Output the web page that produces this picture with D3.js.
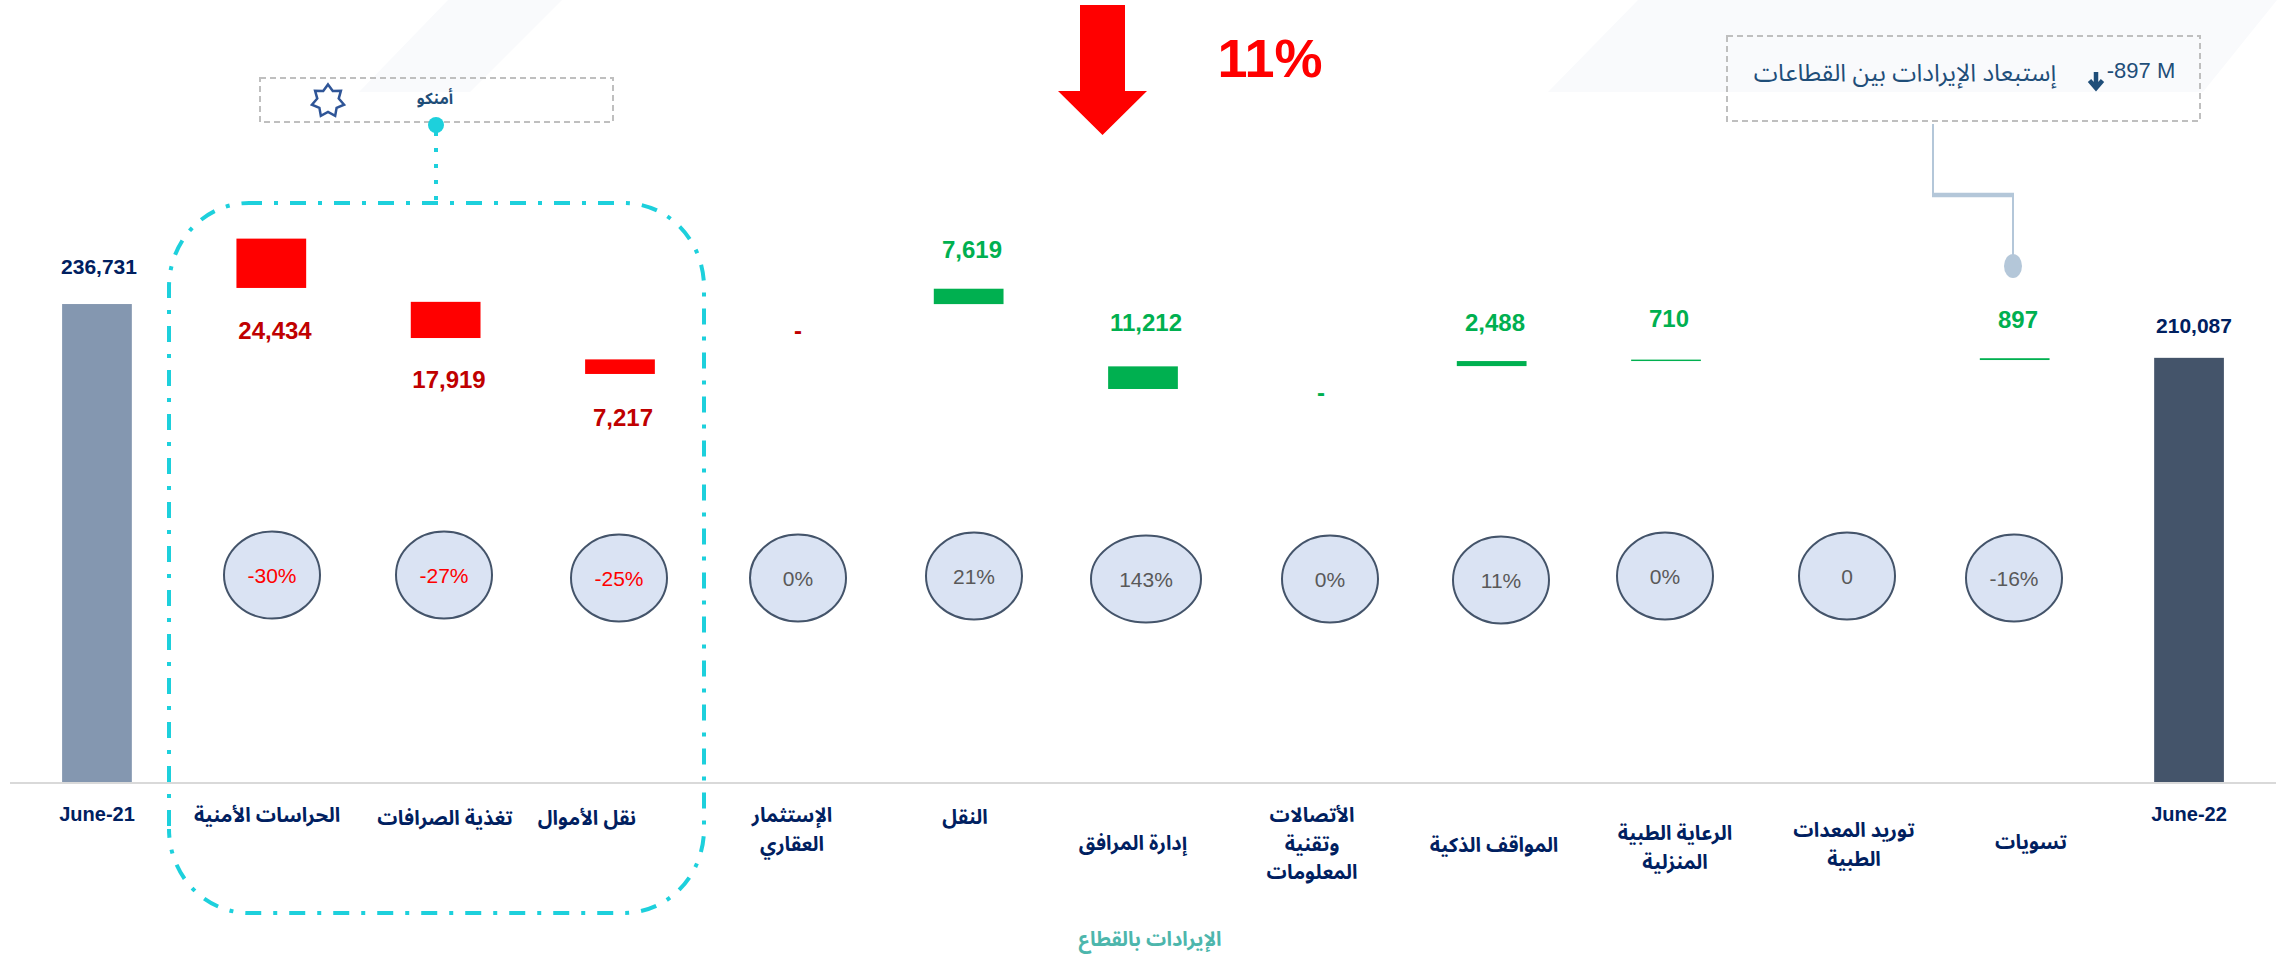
<!DOCTYPE html>
<html><head><meta charset="utf-8">
<script src="https://cdn.jsdelivr.net/npm/d3@7"></script>
<style>html,body{margin:0;padding:0;background:#fff}svg{display:block}
text{font-family:"Liberation Sans",Arial,sans-serif}
.ar{font-family:"Noto Sans Arabic","Noto Sans","DejaVu Sans",sans-serif}</style></head>
<body><svg id="c" width="2283" height="958"></svg>
<script>
// --- data ---
const categories = ["June-21","الحراسات الأمنية","تغذية الصرافات","نقل الأموال","الإستثمار العقاري","النقل","إدارة المرافق","الأتصالات وتقنية المعلومات","المواقف الذكية","الرعاية الطبية المنزلية","توريد المعدات الطبية","تسويات","June-22"];
const values   = [236731,24434,17919,7217,0,7619,11212,0,2488,710,0,897,210087];
const bases    = [0,244700,219900,202100,0,236700,194650,0,206000,208500,0,209000,0];
const labels   = ["236,731","24,434","17,919","7,217","-","7,619","11,212","-","2,488","710","","897","210,087"];
const kinds    = ["start","down","down","down","down","up","up","up","up","up","up","up","end"];
const changes  = [null,"-30%","-27%","-25%","0%","21%","143%","0%","11%","0%","0","-16%",null];
const labelLines = [["June-21"],["الحراسات الأمنية"],["تغذية الصرافات"],["نقل الأموال"],["الإستثمار","العقاري"],["النقل"],["إدارة المرافق"],["الأتصالات","وتقنية","المعلومات"],["المواقف الذكية"],["الرعاية الطبية","المنزلية"],["توريد المعدات","الطبية"],["تسويات"],["June-22"]];
const axisTitle = "الإيرادات بالقطاع";
const totalChange = "11%";
const groupName = "أمنكو";
const noteText = "إستبعاد الإيرادات بين القطاعات";
const noteValue = "-897 M";

// --- layout (pixels, separate from data) ---
const baseY = 782, pxPerUnit = 0.002019;
const valueLabelPos = [[99,267],[275,331],[449,380],[623,418],[798,331],[972,250],[1146,323],[1321,393],[1495,323],[1669,319],[0,0],[2018,320],[2194,326]];
const bubblePos = [null,[272,575],[444,575],[619,578],[798,578],[974,576],[1146,579],[1330,579],[1501,580],[1665,576],[1847,576],[2014,578],null];
const catLabelPos = [[97,814],[267,815],[445,818],[587,818],[792,815],[965,817],[1133,843],[1312,815],[1494,845],[1675,833],[1854,830],[2031,842],[2189,814]];

const colors = {start:"#8497b0",end:"#44546a",down:"#ff0000",up:"#00b050"};
const labelColors = {start:"#002060",end:"#002060",down:"#c00000",up:"#00b050"};

const svg = d3.select("#c");
const x = d3.scaleBand().domain(categories).range([9.8,2276.2]).paddingInner(0.6).paddingOuter(0.3);
const y = d3.scaleLinear().domain([0,236731]).range([baseY,baseY-236731*pxPerUnit]);

// faint background shapes
svg.append("g").selectAll("polygon").data(["448,0 562,0 470,92 359,92","1638,0 2277,0 2203,92 1548,92"])
  .join("polygon").attr("points",d=>d).attr("fill","#f9fafc");

// axis line
svg.append("line").attr("x1",10).attr("x2",2276).attr("y1",baseY+1).attr("y2",baseY+1).attr("stroke","#d9d9d9").attr("stroke-width",2);

// bars
svg.append("g").selectAll("rect").data(categories).join("rect")
  .attr("x",d=>x(d)).attr("width",x.bandwidth())
  .attr("y",(d,i)=>y(bases[i]+values[i]))
  .attr("height",(d,i)=>y(bases[i])-y(bases[i]+values[i]))
  .attr("fill",(d,i)=>colors[kinds[i]]);

// value labels
svg.append("g").selectAll("text").data(labels).join("text")
  .attr("x",(d,i)=>valueLabelPos[i][0]).attr("y",(d,i)=>valueLabelPos[i][1])
  .attr("dy","0.35em").attr("text-anchor","middle").attr("font-weight","bold")
  .attr("font-size",(d,i)=>(i===0||i===12)?21:24)
  .attr("fill",(d,i)=>labelColors[kinds[i]]).text(d=>d);

// bubbles
const bub = svg.append("g").selectAll("g").data(changes.map((c,i)=>({c,p:bubblePos[i],i})).filter(d=>d.c!==null)).join("g")
  .attr("transform",d=>`translate(${d.p[0]},${d.p[1]})`);
bub.append("ellipse").attr("rx",d=>d.c==="143%"?55:48).attr("ry",43.5)
  .attr("fill","#dae3f3").attr("stroke","#44546a").attr("stroke-width",2);
bub.append("text").attr("text-anchor","middle").attr("y",1).attr("dy","0.35em").attr("font-size",21)
  .attr("fill",d=>d.i<=3?"#ff0000":"#595959").text(d=>d.c);

// category labels: one text element per line
const catLines = labelLines.flatMap((lines,i)=>lines.map((t,j)=>({t,i,j})));
svg.append("g").selectAll("text").data(catLines).join("text")
  .attr("class",d=>(d.i===0||d.i===12)?"":"ar")
  .attr("text-anchor","middle").attr("font-weight","bold").attr("font-size",20).attr("fill","#002060")
  .attr("direction",d=>(d.i===0||d.i===12)?"ltr":"rtl")
  .attr("x",d=>catLabelPos[d.i][0]).attr("y",d=>catLabelPos[d.i][1]+d.j*28.5).attr("dy","0.35em").text(d=>d.t);

// axis title
svg.append("text").attr("class","ar").attr("x",1150).attr("y",939).attr("dy","0.35em").attr("text-anchor","middle")
  .attr("font-weight","bold").attr("font-size",20).attr("fill","#4db6ac").text(axisTitle);

// total arrow + percent
svg.append("path").attr("d","M1080,5H1125V91H1147L1102.5,135L1058,91H1080Z").attr("fill","#ff0000");
svg.append("text").attr("x",1270).attr("y",77).attr("text-anchor","middle").attr("font-weight","bold").attr("font-size",54).attr("fill","#ff0000").text(totalChange);

// group annotation
const teal="#1dd0dc";
const dashPattern="16 12 4 12";
svg.append("path").attr("d","M249,203H624A80,84 0 0 1 704,287V829A80,84 0 0 1 624,913H249A80,84 0 0 1 169,829")
  .attr("fill","none").attr("stroke",teal).attr("stroke-width",4).attr("stroke-dasharray",dashPattern).attr("stroke-dashoffset",3);
svg.append("path").attr("d","M169,829V287A80,84 0 0 1 249,203")
  .attr("fill","none").attr("stroke",teal).attr("stroke-width",4).attr("stroke-dasharray",dashPattern).attr("stroke-dashoffset",41);
svg.append("rect").attr("x",260).attr("y",78).attr("width",353).attr("height",44).attr("fill","none").attr("stroke","#bfbfbf").attr("stroke-width",2).attr("stroke-dasharray","6 4");
svg.append("line").attr("x1",436).attr("x2",436).attr("y1",132).attr("y2",203).attr("stroke",teal).attr("stroke-width",4).attr("stroke-dasharray","4 12");
svg.append("ellipse").attr("cx",436).attr("cy",125).attr("rx",8).attr("ry",8).attr("fill",teal);
svg.append("text").attr("class","ar").attr("x",435).attr("y",98).attr("dy","0.35em").attr("text-anchor","middle").attr("font-weight","bold").attr("font-size",16).attr("fill","#1f4e79").text(groupName);
const star=d3.range(14).map(i=>{const r=i%2?11:16.5,a=i*Math.PI/7-Math.PI/2;return [328+r*Math.cos(a),101+r*Math.sin(a)]});
svg.append("polygon").attr("points",star.join(" ")).attr("fill","#fff").attr("stroke","#2f5597").attr("stroke-width",2.5);

// note annotation
svg.append("rect").attr("x",1727).attr("y",36).attr("width",473).attr("height",85).attr("fill","none").attr("stroke","#bfbfbf").attr("stroke-width",2).attr("stroke-dasharray","6 4");
svg.append("text").attr("class","ar").attr("x",1905).attr("y",72).attr("dy","0.35em").attr("text-anchor","middle").attr("font-size",24.4).attr("fill","#1f4e79").text(noteText);
svg.append("text").attr("x",2141).attr("y",70).attr("dy","0.35em").attr("text-anchor","middle").attr("font-size",22).attr("fill","#1f4e79").text(noteValue);
svg.append("path").attr("d","M2096,72V87M2089.5,80.5L2096,88L2102.5,80.5").attr("fill","none").attr("stroke","#1f4e79").attr("stroke-width",4.5);
svg.append("path").attr("d","M1933,124V195").attr("stroke","#b4c7d9").attr("stroke-width",2).attr("fill","none");
svg.append("path").attr("d","M1932,195H2014").attr("stroke","#b4c7d9").attr("stroke-width",4.5).attr("fill","none");
svg.append("path").attr("d","M2013,195V256").attr("stroke","#b4c7d9").attr("stroke-width",2).attr("fill","none");
svg.append("ellipse").attr("cx",2013).attr("cy",266).attr("rx",9).attr("ry",12).attr("fill","#b4c7d9");
</script></body></html>
